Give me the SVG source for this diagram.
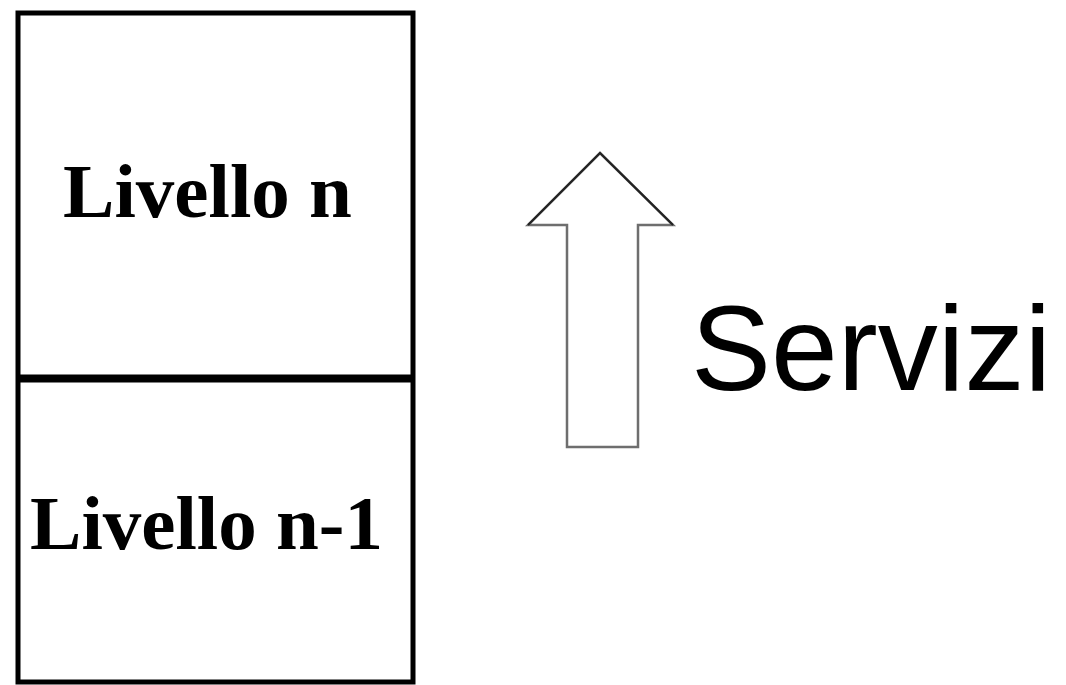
<svg xmlns="http://www.w3.org/2000/svg" width="1066" height="685" viewBox="0 0 1066 685">
<style>
.lbl{font-family:"Liberation Serif","Times New Roman",serif;font-weight:bold;font-size:77px;fill:#000;text-anchor:middle}
.svc{font-family:"Liberation Sans",Arial,sans-serif;font-size:120px;fill:#000}
</style>
<rect width="1066" height="685" fill="#fff"/>
<g id="stack">
<rect x="18" y="13" width="395" height="669" fill="#fff" stroke="#000" stroke-width="5"/>
<line x1="18" y1="378.5" x2="413" y2="378.5" stroke="#000" stroke-width="8"/>
</g>
<g id="livello-n"><text class="lbl" x="207.5" y="217">Livello n</text></g>
<g id="livello-n-1"><text class="lbl" x="206.5" y="549">Livello n-1</text></g>
<g id="connectors">
<polygon points="600,153 673,225 638,225 638,447 567,447 567,225 528,225" fill="#fff" stroke="#6e6e6e" stroke-width="2.5" stroke-linejoin="miter"/>
<polyline points="528,225 600,153 673,225" fill="none" stroke="#222" stroke-width="2"/>
</g>
<g id="servizi"><text class="svc" x="691" y="390">Servizi</text></g>
</svg>
